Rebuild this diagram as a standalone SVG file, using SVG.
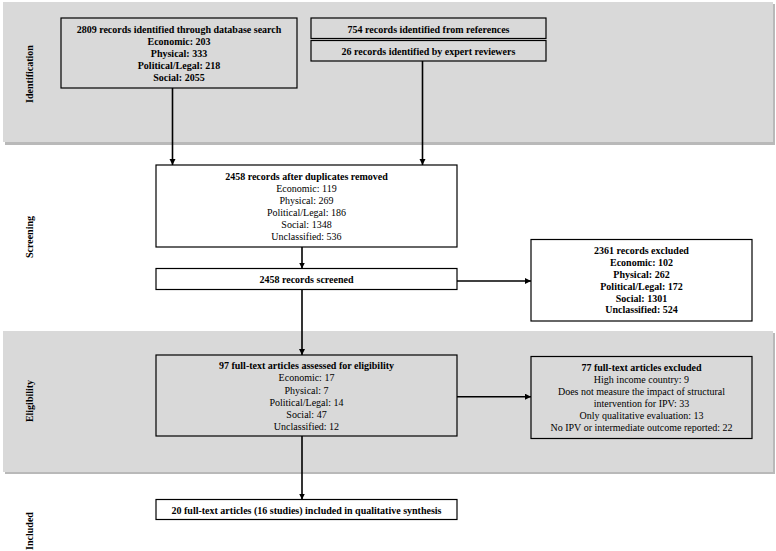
<svg xmlns="http://www.w3.org/2000/svg" width="776" height="551" viewBox="0 0 776 551">
<style>
text{font-family:"Liberation Serif","Times New Roman",serif;font-size:10px;fill:#000;text-anchor:middle}
.b{font-weight:bold}
.box{fill:#fff;stroke:#000;stroke-width:1.2}
.gbox{fill:#d9d9d9;stroke:#000;stroke-width:1.2}
.band{fill:#d9d9d9}
.shadow{fill:#b9b9b9}
.con{stroke:#000;stroke-width:1.6;fill:none;marker-end:url(#ah)}
</style>
<defs>
<marker id="ah" markerUnits="userSpaceOnUse" markerWidth="7" markerHeight="7" refX="6" refY="3" orient="auto">
<path d="M0,0 L6,3 L0,6 z" fill="#000"/>
</marker>
</defs>
<rect width="776" height="551" fill="#fff"/>
<g id="bands">
<rect class="shadow" x="5" y="4" width="770" height="141"/>
<rect class="band" x="3" y="2" width="770" height="140"/>
<rect class="shadow" x="5" y="333" width="770" height="141"/>
<rect class="band" x="3" y="331" width="770" height="141"/>
</g>
<g id="stage-labels">
<text class="b" transform="translate(32.5,74) rotate(-90)">Identification</text>
<text class="b" transform="translate(32.5,237) rotate(-90)">Screening</text>
<text class="b" transform="translate(32.5,401) rotate(-90)">Eligibility</text>
<text class="b" transform="translate(32.5,531) rotate(-90)">Included</text>
</g>
<g id="connectors">
<line class="con" x1="172.5" y1="88" x2="172.5" y2="165"/>
<line class="con" x1="422.5" y1="61" x2="422.5" y2="165"/>
<line class="con" x1="302" y1="247" x2="302" y2="268.5"/>
<line class="con" x1="457" y1="281" x2="531" y2="281"/>
<line class="con" x1="302" y1="289.5" x2="302" y2="355"/>
<line class="con" x1="457" y1="396.7" x2="531" y2="396.7"/>
<line class="con" x1="302" y1="436" x2="302" y2="499.5"/>
</g>
<g id="db-search">
<rect class="gbox" x="61" y="18" width="236" height="70"/>
<text class="b" x="179" y="32.5">2809 records identified through database search</text>
<text class="b" x="179" y="45">Economic: 203</text>
<text class="b" x="179" y="57">Physical: 333</text>
<text class="b" x="179" y="69">Political/Legal: 218</text>
<text class="b" x="179" y="81">Social: 2055</text>
</g>
<g id="references">
<rect class="gbox" x="311" y="18" width="235" height="20.5"/>
<text class="b" x="428.5" y="32.5">754 records identified from references</text>
</g>
<g id="experts">
<rect class="gbox" x="311" y="40.5" width="235" height="20.5"/>
<text class="b" x="428.5" y="55">26 records identified by expert reviewers</text>
</g>
<g id="dedup">
<rect class="box" x="156" y="165" width="301" height="82"/>
<text class="b" x="306.5" y="179.5">2458 records after duplicates removed</text>
<text x="306.5" y="191.5">Economic: 119</text>
<text x="306.5" y="203.5">Physical: 269</text>
<text x="306.5" y="215.5">Political/Legal: 186</text>
<text x="306.5" y="227.5">Social: 1348</text>
<text x="306.5" y="239.5">Unclassified: 536</text>
</g>
<g id="screened">
<rect class="box" x="156" y="268.5" width="301" height="21"/>
<text class="b" x="306.5" y="282.5">2458 records screened</text>
</g>
<g id="excluded-records">
<rect class="box" x="531" y="239.5" width="221" height="81.5"/>
<text class="b" x="641.5" y="253.8">2361 records excluded</text>
<text class="b" x="641.5" y="266.3">Economic: 102</text>
<text class="b" x="641.5" y="277.8">Physical: 262</text>
<text class="b" x="641.5" y="289.6">Political/Legal: 172</text>
<text class="b" x="641.5" y="301.6">Social: 1301</text>
<text class="b" x="641.5" y="313.4">Unclassified: 524</text>
</g>
<g id="fulltext">
<rect class="gbox" x="156" y="355" width="301" height="81"/>
<text class="b" x="306.5" y="368.5">97 full-text articles assessed for eligibility</text>
<text x="306.5" y="381">Economic: 17</text>
<text x="306.5" y="393.5">Physical: 7</text>
<text x="306.5" y="405.8">Political/Legal: 14</text>
<text x="306.5" y="417.5">Social: 47</text>
<text x="306.5" y="429.5">Unclassified: 12</text>
</g>
<g id="excluded-articles">
<rect class="gbox" x="531" y="356.5" width="221" height="82"/>
<text class="b" x="641.5" y="370.8">77 full-text articles excluded</text>
<text x="641.5" y="382.8">High income country: 9</text>
<text x="641.5" y="395.2">Does not measure the impact of structural</text>
<text x="641.5" y="406.8">intervention for IPV: 33</text>
<text x="641.5" y="418.8">Only qualitative evaluation: 13</text>
<text x="641.5" y="431.2">No IPV or intermediate outcome reported: 22</text>
</g>
<g id="included">
<rect class="box" x="156" y="499.5" width="301" height="20"/>
<text class="b" x="306.5" y="513.5">20 full-text articles (16 studies) included in qualitative synthesis</text>
</g>
</svg>
